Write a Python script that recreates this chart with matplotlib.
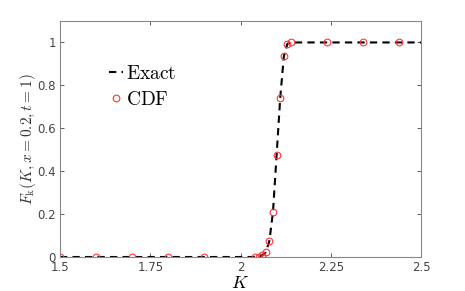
import matplotlib
matplotlib.use("Agg")
import matplotlib.pyplot as plt
import numpy as np

# CDF samples
k_cdf = [1.5, 1.6, 1.7, 1.8, 1.9, 2.04, 2.05, 2.06, 2.07, 2.08, 2.09, 2.10,
         2.11, 2.12, 2.13, 2.14, 2.24, 2.34, 2.44]
f_cdf = [0.0, 0.0, 0.0, 0.0, 0.0, 0.0, 0.002, 0.008, 0.022, 0.075, 0.21, 0.475,
         0.74, 0.935, 0.994, 1.0, 1.0, 1.0, 1.0]

# exact curve
k_exact = [1.5, 2.04, 2.05, 2.06, 2.07, 2.08, 2.09, 2.10, 2.11, 2.12, 2.13, 2.14, 2.5]
f_exact = [0.0, 0.0, 0.002, 0.008, 0.022, 0.075, 0.21, 0.475, 0.74, 0.935, 0.994, 1.0, 1.0]

plt.rcParams['mathtext.fontset'] = 'cm'

fig = plt.figure(figsize=(4.65, 2.91), dpi=100)
ax = fig.add_axes([60/465, 1-257/291, 361/465, 236/291])

ax.plot(k_exact, f_exact, 'k--', lw=1.5, dashes=(3.5, 2.5), label=r'$\mathrm{Exact}$')
ax.plot(k_cdf, f_cdf, 'o', mfc='none', mec='#ff3333', ms=4.8, mew=0.8,
        label=r'$\mathrm{CDF}$')

ax.set_xlim(1.5, 2.5)
ax.set_ylim(0, 1.1)
ax.set_xticks([1.5, 1.75, 2, 2.25, 2.5])
ax.set_xticklabels(['1.5', '1.75', '2', '2.25', '2.5'])
ax.set_yticks([0, 0.2, 0.4, 0.6, 0.8, 1])
ax.set_yticklabels(['0', '0.2', '0.4', '0.6', '0.8', '1'])
ax.tick_params(direction='in', top=True, right=True, length=3, width=0.6,
               colors='#444444', labelsize=8.5, pad=3)
for s in ax.spines.values():
    s.set_color('#888888')
    s.set_linewidth(0.8)

ax.set_xlabel(r'$K$', fontsize=13, labelpad=0)
ax.set_ylabel(r'$F_{\mathrm{k}}(K, x=0.2, t=1)$', fontsize=11, color='#333333')
ax.yaxis.set_label_coords(-0.062, 0.5)

ax.legend(loc='upper left', bbox_to_anchor=(0.108, 0.86), frameon=False, fontsize=14,
          handlelength=0.75, handletextpad=0.15, labelspacing=0.35, borderpad=0)

fig.savefig('out.png', dpi=100)
